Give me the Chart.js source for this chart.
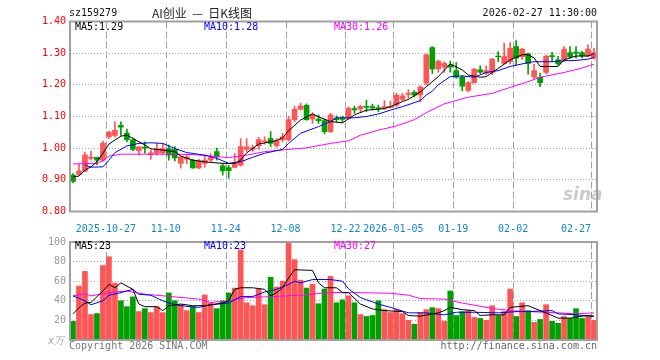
<!DOCTYPE html>
<html>
<head>
<meta charset="utf-8">
<script src="https://cdn.jsdelivr.net/npm/chart.js@4"></script>
<style>
  body { margin: 0; background: #fff; }
  #wrap { position: relative; width: 660px; height: 360px; overflow: hidden; }
  canvas { position: absolute; left: 0; }
  .t { position: absolute; font: 10px/12px "DejaVu Sans Mono", monospace; white-space: pre; }
</style>
</head>
<body>
<div id="wrap">
  <canvas id="kline" width="660" height="232" style="top:0"></canvas>
  <canvas id="vol" width="660" height="128" style="top:232px"></canvas>

  <div class="t" style="left:69px;top:7px;color:#111">sz159279</div>
  <div class="t" style="left:152px;top:5px;font:12px/15px 'Noto Sans CJK SC';color:#222">AI创业  —  日K线图</div>
  <div class="t" style="right:63px;top:7px;color:#111">2026-02-27 11:30:00</div>

  <div class="t" style="left:75px;top:21px;color:#000">MA5:1.29</div>
  <div class="t" style="left:204px;top:21px;color:#0000ff">MA10:1.28</div>
  <div class="t" style="left:334px;top:21px;color:#ff00ff">MA30:1.26</div>

  <div class="t" style="left:75px;top:240px;color:#000">MA5:23</div>
  <div class="t" style="left:204px;top:240px;color:#0000ff">MA10:23</div>
  <div class="t" style="left:334px;top:240px;color:#ff00ff">MA30:27</div>

  <div class="t" style="left:48px;top:335px;color:#aaa;font-style:italic">x万</div>
  <div class="t" style="left:69px;top:340px;color:#777">Copyright 2026 SINA.COM</div>
  <div class="t" style="right:63px;top:340px;color:#666">http://finance.sina.com.cn</div>
  <div class="t" style="left:563px;top:184px;font:bold italic 17px/20px 'DejaVu Sans';color:rgba(160,160,160,0.55)">sina</div>
</div>

<script>
// trading days shown on the chart
const dates = [
  '2025-10-17',
  '2025-10-20','2025-10-21','2025-10-22','2025-10-23','2025-10-24',
  '2025-10-27','2025-10-28','2025-10-29','2025-10-30','2025-10-31',
  '2025-11-03','2025-11-04','2025-11-05','2025-11-06','2025-11-07',
  '2025-11-10','2025-11-11','2025-11-12','2025-11-13','2025-11-14',
  '2025-11-17','2025-11-18','2025-11-19','2025-11-20','2025-11-21',
  '2025-11-24','2025-11-25','2025-11-26','2025-11-27','2025-11-28',
  '2025-12-01','2025-12-02','2025-12-03','2025-12-04','2025-12-05',
  '2025-12-08','2025-12-09','2025-12-10','2025-12-11','2025-12-12',
  '2025-12-15','2025-12-16','2025-12-17','2025-12-18','2025-12-19',
  '2025-12-22','2025-12-23','2025-12-24','2025-12-25','2025-12-26',
  '2025-12-29','2025-12-30','2025-12-31',
  '2026-01-05','2026-01-06','2026-01-07','2026-01-08','2026-01-09',
  '2026-01-12','2026-01-13','2026-01-14','2026-01-15','2026-01-16',
  '2026-01-19','2026-01-20','2026-01-21','2026-01-22','2026-01-23',
  '2026-01-26','2026-01-27','2026-01-28','2026-01-29','2026-01-30',
  '2026-02-02','2026-02-03','2026-02-04','2026-02-05','2026-02-06',
  '2026-02-09','2026-02-10','2026-02-11','2026-02-12','2026-02-13',
  '2026-02-24','2026-02-25','2026-02-26','2026-02-27'
];

const tickDates  = ['2025-10-27','2025-11-10','2025-11-24','2025-12-08','2025-12-22','2026-01-05','2026-01-19','2026-02-02','2026-02-27'];
const tickLabels = ['2025-10-27','11-10','11-24','12-08','12-22','2026-01-05','01-19','02-02','02-27'];

const open = [0.915,0.917,0.927,0.968,0.971,0.962,1.036,1.040,1.072,1.048,
  1.026,0.992,1.003,0.980,0.984,0.986,0.999,0.996,0.952,0.965,
  0.962,0.938,0.952,0.963,0.989,0.944,0.939,0.939,0.946,0.996,
  0.996,1.007,1.020,1.030,1.007,1.026,1.027,1.090,1.123,1.135,
  1.092,1.092,1.087,1.052,1.095,1.094,1.094,1.125,1.124,1.132,
  1.131,1.127,1.126,1.129,1.136,1.154,1.170,1.176,1.168,1.205,
  1.318,1.250,1.256,1.262,1.245,1.224,1.182,1.207,1.247,1.237,
  1.239,1.291,1.268,1.273,1.321,1.289,1.298,1.224,1.224,1.239,
  1.292,1.279,1.277,1.302,1.303,1.302,1.291,1.284];
const high = [0.920,0.950,0.988,0.990,0.972,1.022,1.053,1.083,1.083,1.060,
  1.030,1.005,1.020,0.995,1.015,1.015,1.010,1.005,0.973,0.980,
  0.965,0.965,0.978,0.983,1.000,0.952,0.946,0.983,1.030,1.030,
  1.010,1.034,1.036,1.052,1.030,1.047,1.100,1.133,1.142,1.140,
  1.112,1.105,1.092,1.110,1.102,1.101,1.131,1.133,1.136,1.152,
  1.139,1.136,1.150,1.149,1.173,1.173,1.184,1.182,1.197,1.297,
  1.321,1.278,1.273,1.275,1.270,1.230,1.210,1.252,1.260,1.260,
  1.283,1.305,1.331,1.333,1.340,1.316,1.300,1.265,1.237,1.293,
  1.303,1.290,1.321,1.321,1.321,1.306,1.326,1.316];
const low = [0.890,0.915,0.925,0.962,0.947,0.958,1.030,1.035,1.040,1.020,
  0.992,0.978,0.984,0.965,0.978,0.980,0.962,0.960,0.937,0.950,
  0.936,0.935,0.940,0.957,0.963,0.915,0.905,0.938,0.943,0.990,
  0.990,0.995,1.013,1.005,1.003,1.020,1.022,1.084,1.120,1.088,
  1.078,1.078,1.045,1.050,1.083,1.081,1.092,1.110,1.115,1.115,
  1.121,1.115,1.122,1.126,1.131,1.150,1.158,1.162,1.147,1.200,
  1.236,1.240,1.239,1.240,1.220,1.181,1.178,1.205,1.235,1.232,
  1.232,1.273,1.266,1.266,1.263,1.280,1.234,1.220,1.194,1.235,
  1.273,1.262,1.273,1.284,1.284,1.285,1.289,1.281];
const close = [0.895,0.928,0.978,0.972,0.962,1.015,1.051,1.056,1.066,1.027,
  0.996,1.004,1.000,0.985,0.999,0.999,0.978,0.969,0.973,0.972,
  0.938,0.960,0.962,0.970,0.973,0.928,0.929,0.952,1.005,1.004,
  1.002,1.027,1.023,1.015,1.024,1.036,1.090,1.123,1.133,1.090,
  1.107,1.087,1.052,1.105,1.090,1.091,1.126,1.121,1.132,1.129,
  1.127,1.124,1.131,1.132,1.168,1.165,1.173,1.167,1.194,1.295,
  1.250,1.275,1.268,1.256,1.224,1.196,1.207,1.249,1.240,1.245,
  1.281,1.288,1.289,1.315,1.284,1.313,1.268,1.245,1.207,1.291,
  1.289,1.266,1.313,1.288,1.300,1.291,1.313,1.302];

// volume, 万手
const volume = [19,55,70,26,27,76,85,58,40,34,
  44,29,32,28,34,28,48,40,36,30,
  34,28,46,38,32,40,48,53,92,38,
  35,52,36,64,54,60,99,82,61,53,
  57,37,52,65,38,41,45,38,26,24,
  25,40,31,28,31,27,20,16,28,31,
  33,32,19,50,25,29,30,23,22,20,
  35,25,29,52,24,38,30,18,21,36,
  19,17,24,22,32,22,24,20];

// moving average lines: [day index, value]
const ma5Price = [[0,0.909],[1,0.912],[2,0.931],[3,0.941],[4,0.957],[5,0.984],[6,1.013],[8,1.038],[9,1.041],[10,1.031],
  [12,1.010],[13,0.998],[15,0.994],[17,0.989],[18,0.975],[20,0.962],[22,0.957],[23,0.955],[25,0.952],[27,0.952],
  [28,0.962],[29,0.985],[31,1.013],[33,1.020],[34,1.024],[35,1.033],[36,1.055],[38,1.089],[40,1.108],[41,1.099],
  [43,1.084],[45,1.080],[47,1.105],[49,1.120],[52,1.125],[53,1.131],[55,1.147],[56,1.154],[58,1.178],[59,1.194],
  [61,1.226],[63,1.266],[65,1.247],[66,1.231],[68,1.224],[69,1.226],[71,1.252],[73,1.279],[75,1.295],[76,1.295],
  [77,1.285],[78,1.258],[81,1.258],[82,1.279],[84,1.291],[86,1.291],[87,1.298]];
const ma10Price = [[2,0.947],[3,0.940],[5,0.941],[6,0.962],[7,0.986],[9,1.007],[11,1.015],[13,1.017],[15,1.015],[17,0.999],
  [19,0.986],[22,0.978],[24,0.968],[26,0.952],[28,0.957],[30,0.971],[32,0.984],[35,0.996],[36,1.015],[38,1.047],
  [41,1.068],[43,1.084],[44,1.096],[47,1.096],[49,1.100],[51,1.108],[53,1.120],[55,1.131],[58,1.150],[59,1.168],
  [60,1.180],[61,1.200],[63,1.226],[65,1.228],[67,1.224],[69,1.239],[71,1.245],[73,1.258],[76,1.270],[77,1.273],
  [80,1.273],[82,1.276],[84,1.277],[86,1.281],[87,1.287]];
const ma30Price = [[0,0.950],[3,0.952],[4,0.952],[5,0.960],[6,0.975],[8,0.981],[16,0.981],[20,0.980],[23,0.975],[26,0.970],
  [29,0.978],[32,0.989],[36,0.996],[39,1.001],[43,1.015],[46,1.023],[48,1.041],[51,1.057],[54,1.070],[57,1.090],
  [59,1.112],[62,1.140],[66,1.161],[70,1.173],[73,1.192],[76,1.210],[78,1.224],[82,1.239],[85,1.253],[87,1.265]];

const ma5Vol = [[0,26.7],[1,33],[2,37.7],[3,38.3],[5,50],[6,56.7],[7,53.3],[8,58.3],[10,51.7],[11,36.7],
  [12,34],[14,34],[15,30],[16,35],[18,36.7],[20,35],[22,35],[25,37.7],[26,40],[27,51.7],
  [28,53.3],[30,53.3],[32,51.7],[33,45],[34,48.3],[35,53.3],[36,63.3],[37,71.7],[40,71],[41,58.3],
  [42,53.3],[44,53.3],[45,48.3],[46,48.3],[48,36.7],[50,31.7],[52,30],[55,29],[56,25],[58,24.3],
  [61,27.7],[62,30],[63,33.3],[65,31],[67,30],[68,25],[70,25.7],[72,25.7],[73,33.3],[76,35],
  [78,30],[80,25],[81,22.3],[83,22.3],[85,24.3],[86,25],[87,24.3]];
const ma10Vol = [[0,45],[2,40],[3,36],[5,40],[6,45.7],[8,48.3],[10,51.7],[11,46.7],[13,45.7],[15,40],
  [17,36],[19,34.3],[21,33.3],[23,36],[26,37.7],[28,44.3],[30,44.3],[32,49],[34,51.7],[36,56.7],
  [37,60],[38,58.3],[40,61.7],[43,61.7],[45,60],[46,52.3],[48,43.3],[51,36.7],[53,33.3],[56,27.7],
  [59,27.7],[62,25.7],[64,28.3],[67,28.3],[71,27.7],[74,29],[76,29],[80,30],[81,26.7],[84,25.7],[87,24]];
const ma30Vol = [[0,45],[2,47.3],[3,45],[6,48.3],[9,50],[12,46.7],[17,44],[21,41.7],[23,38.3],[26,40],
  [29,43.3],[32,44],[38,45.7],[43,48.5],[48,48.3],[53,47.7],[56,45.7],[58,42.3],[62,41.7],[65,37.7],
  [70,32.3],[73,30],[76,29],[81,27.7],[84,26.7],[87,27.7]];

const UP = '#ff5555';
const DOWN = '#00a000';
const GRID = '#a0a0a0';

const candleColor = close.map((c, i) => c >= open[i] ? UP : DOWN);

function series(points) {
  const out = new Array(dates.length).fill(null);
  points.forEach(([i, v]) => { out[i] = v; });
  return out;
}

function maLine(points, color) {
  return {
    type: 'line', data: series(points), borderColor: color, borderWidth: 1,
    pointRadius: 0, tension: 0, spanGaps: true, order: 0
  };
}

const isTick = i => tickDates.includes(dates[i]);

// dashed date lines on the left edge of the tick day, drawn under the marks
const dateLines = {
  id: 'dateLines',
  beforeDatasetsDraw(chart) {
    const x = chart.scales.x, a = chart.chartArea, c = chart.ctx;
    const half = (x.getPixelForTick(1) - x.getPixelForTick(0)) / 2;
    c.save();
    c.strokeStyle = GRID;
    c.lineWidth = 1;
    c.setLineDash([7, 3]);
    dates.forEach((d, i) => {
      if (!isTick(i)) return;
      const px = Math.round(x.getPixelForTick(i) - half) + 0.5;
      c.beginPath();
      c.moveTo(px, a.top);
      c.lineTo(px, a.bottom);
      c.stroke();
    });
    c.restore();
  }
};

// outer frame of the plot area
const frame = {
  id: 'frame',
  afterDraw(chart) {
    const a = chart.chartArea, c = chart.ctx;
    c.save();
    c.setLineDash([]);
    c.strokeStyle = '#a0a0a0';
    c.lineWidth = 2;
    c.strokeRect(a.left, a.top, a.right - a.left, a.bottom - a.top);
    c.restore();
  }
};

Chart.defaults.font.family = 'DejaVu Sans Mono';
Chart.defaults.font.size = 10;

function xAxis(showLabels, h) {
  return {
    offset: true,
    grid: { display: false },
    border: { display: false },
    ticks: {
      display: showLabels, autoSkip: false, maxRotation: 0, minRotation: 0,
      padding: 4, labelOffset: -3, color: '#0f85d6',
      callback: (v, i) => {
        const k = tickDates.indexOf(dates[i]);
        if (k < 0) return '';
        // last label sits left of its line
        return k === tickDates.length - 1 ? tickLabels[k] + '     ' : tickLabels[k];
      }
    },
    afterFit: s => { s.height = h; }
  };
}

new Chart(document.getElementById('kline'), {
  type: 'bar',
  data: {
    labels: dates,
    datasets: [
      maLine(ma5Price, '#000000'),
      maLine(ma10Price, '#0000ff'),
      maLine(ma30Price, '#ff00ff'),
      {
        data: open.map((o, i) => [Math.min(o, close[i]), Math.max(o, close[i])]),
        backgroundColor: candleColor, borderWidth: 0, barThickness: 5,
        minBarLength: 1, grouped: false, order: 1
      },
      {
        data: low.map((l, i) => [l, high[i]]),
        backgroundColor: candleColor, borderWidth: 0, barThickness: 1,
        grouped: false, order: 2
      }
    ]
  },
  options: {
    responsive: false, animation: false, devicePixelRatio: 1,
    layout: { padding: { left: 0, right: 63, top: 21.5, bottom: 0 } },
    plugins: { legend: { display: false }, tooltip: { enabled: false } },
    scales: {
      x: xAxis(true, 20.5),
      y: {
        min: 0.8, max: 1.4,
        ticks: { stepSize: 0.1, color: '#ff0000', padding: 4, callback: v => v.toFixed(2) },
        grid: {
          drawTicks: false,
          color: c => (c.tick.value > 0.81 && c.tick.value < 1.39) ? GRID : 'rgba(0,0,0,0)'
        },
        border: { display: false, dash: [1, 2] },
        afterFit: s => { s.width = 70; }
      }
    }
  },
  plugins: [dateLines, frame]
});

new Chart(document.getElementById('vol'), {
  type: 'bar',
  data: {
    labels: dates,
    datasets: [
      maLine(ma5Vol, '#000000'),
      maLine(ma10Vol, '#0000ff'),
      maLine(ma30Vol, '#ff00ff'),
      {
        data: volume, backgroundColor: candleColor, borderWidth: 0,
        barThickness: 5, grouped: false, order: 1
      }
    ]
  },
  options: {
    responsive: false, animation: false, devicePixelRatio: 1,
    layout: { padding: { left: 0, right: 63, top: 8, bottom: 0 } },
    plugins: { legend: { display: false }, tooltip: { enabled: false } },
    scales: {
      x: xAxis(false, 20),
      y: {
        min: 0, max: 100,
        ticks: { stepSize: 20, color: '#999', padding: 4, callback: v => v === 0 ? '' : v },
        grid: {
          drawTicks: false,
          color: c => (c.tick.value > 0 && c.tick.value < 100) ? GRID : 'rgba(0,0,0,0)'
        },
        border: { display: false, dash: [1, 2] },
        afterFit: s => { s.width = 70; }
      }
    }
  },
  plugins: [dateLines, frame]
});
</script>
</body>
</html>
